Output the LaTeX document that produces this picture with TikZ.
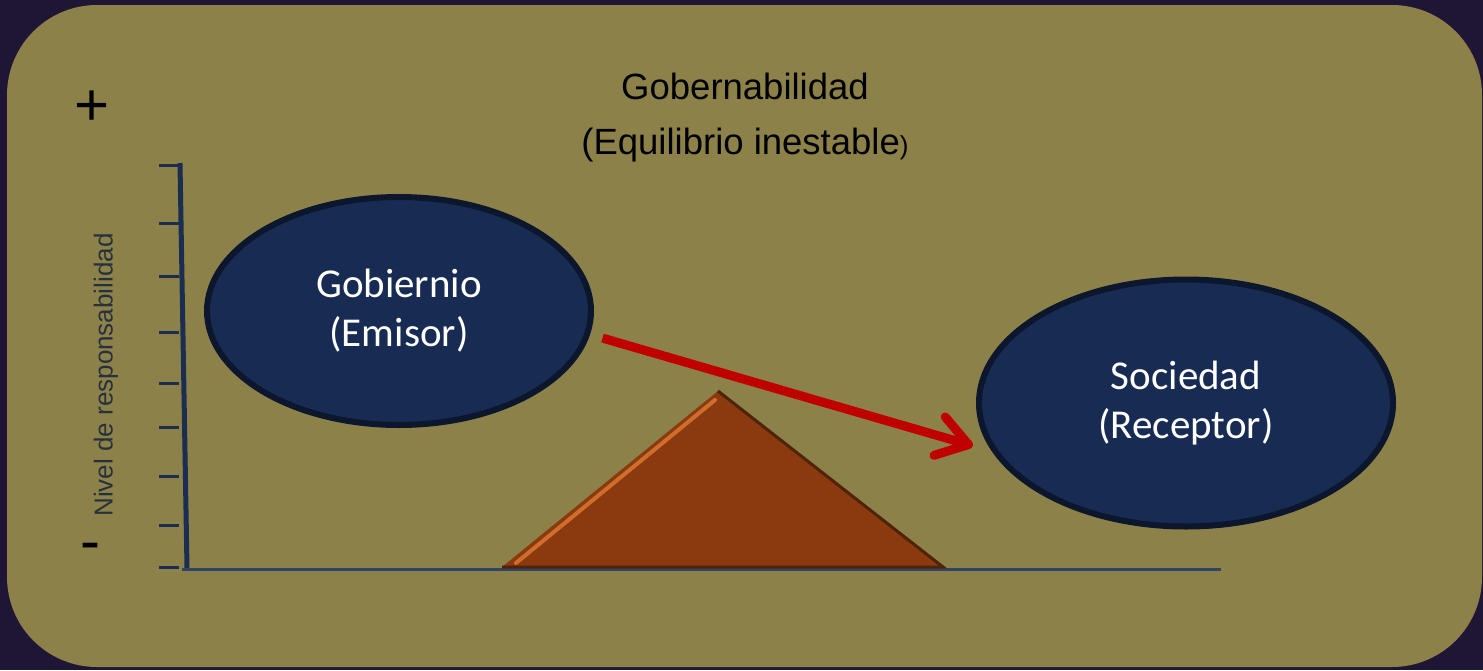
\documentclass[tikz,border=0pt]{standalone}
\usepackage{fontspec}
\setmainfont{Liberation Sans}
\newfontfamily\ovalfont{Carlito}
\usetikzlibrary{arrows.meta,positioning,shapes.geometric}
\definecolor{bgnavy}{HTML}{1F1535}
\definecolor{olivepanel}{HTML}{8C8249}
\definecolor{ovalblue}{HTML}{172B53}
\definecolor{ovaledge}{HTML}{0C162C}
\definecolor{axisblue}{HTML}{1B2D50}
\definecolor{baseblue}{HTML}{2E4565}
\definecolor{pyramid}{HTML}{8A3A0E}
\definecolor{pyrlight}{HTML}{CF6E2C}
\definecolor{pyrdark}{HTML}{4E2309}
\definecolor{arrowred}{HTML}{C00000}
\definecolor{labelgray}{HTML}{26313D}

\begin{document}
\begin{tikzpicture}[
      x=1pt, y=-1pt,
      oval/.style={ellipse, draw=ovaledge, line width=6pt, fill=ovalblue, inner sep=0pt, text=white, align=center, font=\ovalfont\fontsize{41}{49}\selectfont},
      sign/.style={anchor=base, inner sep=0pt, font=\fontsize{60}{60}\selectfont},
      tick/.style={draw=axisblue, line width=3pt},
      flow/.style={draw=arrowred, line width=9pt, -{Straight Barb[length=30pt,width=40pt,round]}}
    ]
    \fill[bgnavy] (0,0) rectangle (1483,670);
    \fill[olivepanel, rounded corners=90pt] (7,5) rectangle (1482,667);

    \node[align=center, font=\fontsize{36.5}{55}\selectfont] (title) at (745,118) {Gobernabilidad\\(Equilibrio inestable{\fontsize{26}{26}\selectfont)}};
    \node[sign] (plus) at (92,125) {+};
    \node[sign] (minus) at (90,561) {-};
    \node[rotate=90, text=labelgray, font=\fontsize{26}{26}\selectfont] (ylabel) at (106,375) {Nivel de responsabilidad};

    \foreach \ty in {165,223,276,332,383,427,476,525,567}
      \draw[tick] (159,\ty) -- (179,\ty);
    \draw[draw=axisblue, line width=5pt] (180,163) -- (187,568);
    \draw[draw=baseblue, line width=3pt] (182,569) -- (1221,569);

    \coordinate (left) at (502,567);
    \coordinate (top) at (718,391);
    \coordinate (right) at (943,567);
    \fill[pyramid] (left) -- (top) -- (right) -- cycle;
    \draw[pyrdark, line width=3pt] (top) -- (right) -- (left);
    \draw[pyrlight, line width=4pt, line cap=round] ([shift={(14,-4)}]left) -- ([shift={(-3,9)}]top);

    \node[oval, minimum width=384pt, minimum height=228pt] (gob) at (399,311) {Gobiernio\\(Emisor)};
    \node[oval, minimum width=414pt, minimum height=247pt] (soc) at (1186,403) {Sociedad\\(Receptor)};

    \draw[flow, shorten <=13pt, shorten >=20pt] (gob.-7.4) -- (soc.194.3);
\end{tikzpicture}
\end{document}
